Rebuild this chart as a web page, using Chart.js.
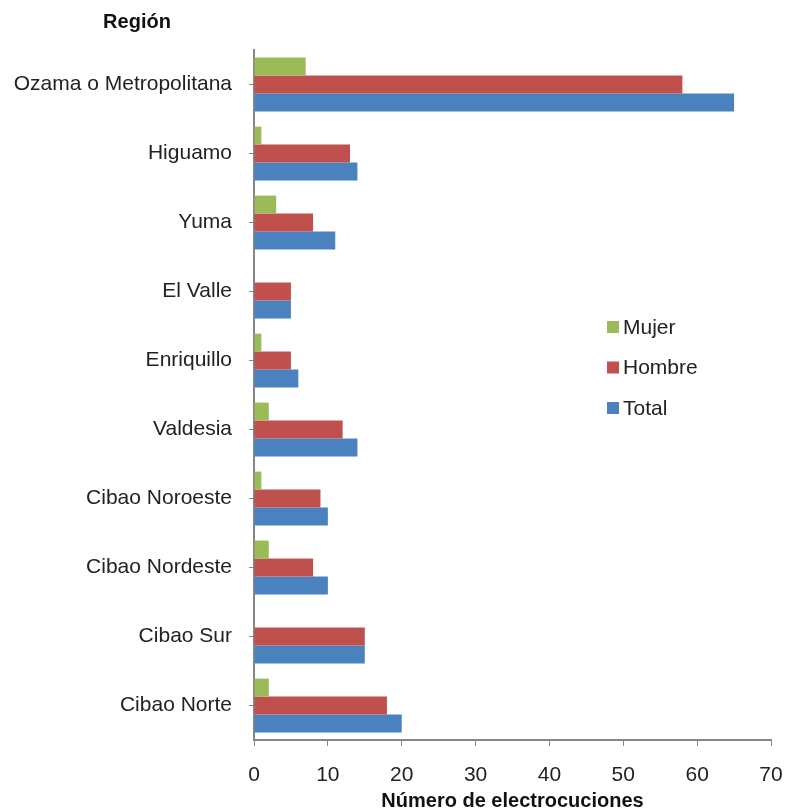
<!DOCTYPE html>
<html><head><meta charset="utf-8">
<script src="https://cdn.jsdelivr.net/npm/chart.js@4"></script>
<style>html,body{margin:0;padding:0;background:#fff}#wrap{width:788px;height:809px}</style>
</head><body><div id="wrap"><canvas id="c" width="788" height="809"></canvas></div>
<script>
const categories = ["Ozama o Metropolitana","Higuamo","Yuma","El Valle","Enriquillo","Valdesia","Cibao Noroeste","Cibao Nordeste","Cibao Sur","Cibao Norte"];
const mujer  = [7, 1, 3, 0, 1, 2, 1, 2, 0, 2];
const hombre = [58, 13, 8, 5, 5, 12, 9, 8, 15, 18];
const total  = [65, 14, 11, 5, 6, 14, 10, 10, 15, 20];
const xTicks = [0,10,20,30,40,50,60,70];
const FONT = "'Liberation Sans', Arial, sans-serif";
const AX = '#868686';

const legendPlugin = {
  id: 'customLegend',
  afterDraw(chart) {
    const ctx = chart.ctx;
    ctx.save();
    ctx.font = "21px " + FONT;
    ctx.textBaseline = 'middle';
    ctx.textAlign = 'left';
    chart.data.datasets.forEach((ds, i) => {
      const y = 327 + i * 40.5;
      ctx.fillStyle = ds.backgroundColor;
      ctx.fillRect(607, y - 6, 12, 12);
      ctx.fillStyle = '#222';
      ctx.fillText(ds.label, 623, y + 1);
    });
    ctx.font = "bold 20px " + FONT;
    ctx.textAlign = 'center';
    ctx.fillStyle = '#111';
    ctx.fillText('Región', 137, 22);
    ctx.restore();
  }
};

new Chart(document.getElementById('c'), {
  type: 'bar',
  data: {
    labels: categories,
    datasets: [
      {label: 'Mujer', data: mujer, backgroundColor: '#9BBB59'},
      {label: 'Hombre', data: hombre, backgroundColor: '#C0504D'},
      {label: 'Total', data: total, backgroundColor: '#4A81BF'}
    ]
  },
  options: {
    indexAxis: 'y',
    responsive: false,
    animation: false,
    layout: {padding: {top: 50, right: 0, bottom: 0, left: 0}},
    datasets: {bar: {barPercentage: 1, categoryPercentage: 0.78}},
    plugins: {legend: {display: false}, tooltip: {enabled: false}},
    scales: {
      x: {
        min: 0, max: 70,
        afterBuildTicks(s) { s.ticks = xTicks.map(v => ({value: v})); },
        afterFit(s) { s.height = 69; s.paddingRight = 17; },
        grid: {drawOnChartArea: false, color: AX, tickLength: 6, tickColor: AX},
        border: {color: AX, width: 2},
        ticks: {color: '#222', font: {family: FONT, size: 21}, padding: 17},
        title: {display: true, text: 'Número de electrocuciones', color: '#111', font: {family: FONT, size: 20, weight: 'bold'}, padding: {top: 0, bottom: -4}}
      },
      y: {
        afterFit(s) { s.width = 254; },
        grid: {drawOnChartArea: false, offset: false, color: AX, tickLength: 5, tickColor: AX},
        border: {color: AX, width: 2},
        ticks: {color: '#222', font: {family: FONT, size: 21}, padding: 17}
      }
    }
  },
  plugins: [legendPlugin]
});
</script></body></html>
